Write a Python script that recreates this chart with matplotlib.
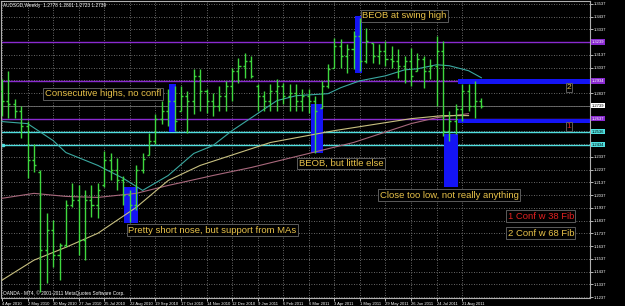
import numpy as np
import matplotlib
matplotlib.use("Agg")
import matplotlib.pyplot as plt

# weekly AUDSGD bars, week 0 = 4 Apr 2010
opens = [1.2856, 1.2778, 1.2755, 1.2700, 1.2582, 1.2309, 1.2215, 1.1605, 1.1761, 1.1566,
         1.1644, 1.1957, 1.1996, 1.1683, 1.1996, 1.1957, 1.2113, 1.2309, 1.2231, 1.2152,
         1.2035, 1.1957, 1.2231, 1.2348, 1.2465, 1.2637, 1.2700, 1.2778, 1.2700, 1.2817,
         1.2778, 1.2973, 1.2856, 1.2778, 1.2739, 1.2817, 1.2895, 1.3013, 1.3052, 1.3091,
         1.2895, 1.2817, 1.2778, 1.2856, 1.2895, 1.2817, 1.2841, 1.2778, 1.2817, 1.2778,
         1.2723, 1.2895, 1.3036, 1.3208, 1.3130, 1.3185, 1.3286, 1.3091, 1.3232, 1.3130,
         1.3169, 1.3106, 1.3091, 1.3052, 1.3091, 1.3013, 1.3106, 1.3013, 1.3052, 1.3169,
         1.2543, 1.2622, 1.2715, 1.2856, 1.2739, 1.2778]
highs = [1.2950, 1.3013, 1.2794, 1.2739, 1.2622, 1.2442, 1.2231, 1.1894, 1.1840, 1.1660,
         1.1996, 1.2129, 1.2113, 1.2074, 1.2113, 1.2129, 1.2387, 1.2371, 1.2332, 1.2191,
         1.2074, 1.2270, 1.2364, 1.2528, 1.2676, 1.2778, 1.2872, 1.2895, 1.2895, 1.2856,
         1.3028, 1.3028, 1.2872, 1.2841, 1.2895, 1.2934, 1.3036, 1.3114, 1.3153, 1.3130,
         1.2911, 1.2856, 1.2911, 1.2950, 1.2919, 1.2911, 1.2911, 1.2872, 1.2872, 1.2817,
         1.2934, 1.3067, 1.3271, 1.3263, 1.3224, 1.3325, 1.3427, 1.3349, 1.3232, 1.3224,
         1.3247, 1.3208, 1.3185, 1.3130, 1.3192, 1.3153, 1.3130, 1.3106, 1.3286, 1.3247,
         1.2700, 1.2755, 1.2911, 1.2911, 1.2934, 1.2801]
lows = [1.2661, 1.2645, 1.2645, 1.2489, 1.2168, 1.2215, 1.1277, 1.1347, 1.1472, 1.1370,
        1.1628, 1.1941, 1.1566, 1.1527, 1.1863, 1.1855, 1.2098, 1.2152, 1.2074, 1.1957,
        1.1824, 1.1918, 1.2207, 1.2348, 1.2442, 1.2598, 1.2582, 1.2543, 1.2700, 1.2528,
        1.2676, 1.2700, 1.2684, 1.2661, 1.2700, 1.2700, 1.2778, 1.2919, 1.2958, 1.2958,
        1.2700, 1.2700, 1.2700, 1.2700, 1.2755, 1.2700, 1.2700, 1.2700, 1.2684, 1.2371,
        1.2723, 1.2880, 1.3036, 1.3036, 1.2997, 1.3028, 1.3013, 1.3075, 1.3075, 1.3067,
        1.3052, 1.3036, 1.2958, 1.2919, 1.2895, 1.3013, 1.2880, 1.2950, 1.2739, 1.2504,
        1.2465, 1.2520, 1.2622, 1.2700, 1.2645, 1.2723]
closes = [1.2778, 1.2755, 1.2700, 1.2582, 1.2309, 1.2270, 1.1605, 1.1761, 1.1566, 1.1644,
          1.1957, 1.1996, 1.1683, 1.1996, 1.1957, 1.2074, 1.2309, 1.2231, 1.2152, 1.2035,
          1.1957, 1.2231, 1.2324, 1.2465, 1.2637, 1.2700, 1.2778, 1.2622, 1.2817, 1.2778,
          1.2973, 1.2856, 1.2778, 1.2739, 1.2817, 1.2895, 1.3013, 1.3052, 1.3091, 1.2973,
          1.2817, 1.2778, 1.2856, 1.2895, 1.2817, 1.2841, 1.2778, 1.2817, 1.2778, 1.2700,
          1.2895, 1.3028, 1.3208, 1.3130, 1.3185, 1.3286, 1.3091, 1.3247, 1.3130, 1.3169,
          1.3106, 1.3091, 1.3052, 1.3091, 1.2973, 1.3106, 1.3013, 1.3052, 1.3169, 1.2543,
          1.2622, 1.2715, 1.2856, 1.2739, 1.2778, 1.2739]

# moving averages (week, price)
ma_fast_weeks = [0, 4, 8, 10, 15, 19, 22, 26, 30, 33, 36, 43, 46, 51, 53, 56, 60, 63, 65, 68, 70, 73, 75]
ma_fast = [1.2614, 1.2598, 1.2465, 1.2371, 1.2270, 1.2168, 1.2074, 1.2191, 1.2364, 1.2426, 1.2543, 1.2778,
           1.2817, 1.2833, 1.2880, 1.2934, 1.2973, 1.3020, 1.3028, 1.3060, 1.3052, 1.3013, 1.2958]
ma_mid_weeks = [0, 5, 10, 15, 21, 26, 31, 42, 52, 64, 69, 73]
ma_mid = [1.1370, 1.1527, 1.1628, 1.1738, 1.1941, 1.2152, 1.2270, 1.2450, 1.2543, 1.2637, 1.2661, 1.2661]
ma_slow_weeks = [0, 5, 10, 15, 21, 26, 33, 39, 48, 55, 64, 68, 73]
ma_slow = [1.2012, 1.2051, 1.2027, 1.2019, 1.2051, 1.2113, 1.2191, 1.2254, 1.2364, 1.2450, 1.2598, 1.2645, 1.2676]

# horizontal levels
purple_levels = [1.3239, 1.2934, 1.2637]
cyan_levels = [1.2536, 1.2434]
bid_price = 1.2739
zone_start = 71.4
zone_bands = [(1.2911, 1.2950), (1.2606, 1.2637)]

# highlight boxes: (week from, week to, price low, price high)
blue_boxes = [(19.1, 21.3, 1.1816, 1.2098),
              (26.1, 27.2, 1.2536, 1.2911),
              (48.3, 50.2, 1.2364, 1.2755),
              (55.2, 56.4, 1.2997, 1.3443),
              (69.2, 71.3, 1.2098, 1.2520)]

notes = [("BEOB at swing high", 56.4, 1.3443, "#e8c24a"),
         ("Consecutive highs, no confl", 6.7, 1.2833, "#e8c24a"),
         ("BEOB, but little else", 46.4, 1.2285, "#e8c24a"),
         ("Close too low, not really anything", 59.1, 1.2035, "#e8c24a"),
         ("Pretty short nose, but support from MAs", 19.7, 1.1761, "#e8c24a"),
         ("1 Conf w 38 Fib", 79.1, 1.1871, "#e02020"),
         ("2 Conf w 68 Fib", 79.1, 1.1738, "#e8c24a")]
markers = [("2", 88.3, 1.2880, "#e8c24a"), ("1", 88.3, 1.2575, "#e02020")]

date_labels = ["4 Apr 2010", "2 May 2010", "30 May 2010", "27 Jun 2010", "25 Jul 2010", "22 Aug 2010",
               "19 Sep 2010", "17 Oct 2010", "14 Nov 2010", "12 Dec 2010", "9 Jan 2011", "6 Feb 2011",
               "6 Mar 2011", "3 Apr 2011", "1 May 2011", "29 May 2011", "26 Jun 2011", "24 Jul 2011",
               "21 Aug 2011"]
price_ticks = [1.3537 - 0.01 * k for k in range(24)]

plt.rcParams['font.family'] = ['Liberation Sans', 'DejaVu Sans']

fig = plt.figure(figsize=(6.25, 3.06), dpi=100, facecolor='black')
ax = fig.add_axes([1 / 625, 8 / 306, 589 / 625, 297 / 306])
ax.set_facecolor('black')
ax.set_xlim(-0.16, 92.0)
ax.set_ylim(1.1230, 1.3560)

# grid
for w in range(0, 76, 4):
    ax.axvline(w, color='#8a8a8a', lw=0.6, ls=(0, (1, 2)), zorder=0)
for p in price_ticks:
    ax.axhline(p, color='#8a8a8a', lw=0.6, ls=(0, (1, 2)), zorder=0)

# blue highlight boxes and zones
for x0, x1, lo, hi in blue_boxes:
    ax.fill_between([x0, x1], lo, hi, color='#1414f5', lw=0, zorder=2)
for lo, hi in zone_bands:
    ax.fill_between([zone_start, 93], lo, hi, color='#1414f5', lw=0, zorder=2)

# levels
for lv in purple_levels:
    ax.axhline(lv, color='#8a2ad0', lw=1.0, zorder=1)
for lv in cyan_levels:
    ax.axhline(lv, color='#4fe0e0', lw=1.0, zorder=1)
ax.axhline(bid_price, color='#707070', lw=0.6, zorder=1)
ax.plot([0.1], [cyan_levels[1]], 's', color='#4fe0e0', ms=2)

# moving averages
ax.plot(ma_slow_weeks, ma_slow, color='#a8687c', lw=0.8, zorder=3)
ax.plot(ma_mid_weeks, ma_mid, color='#c8c080', lw=0.8, zorder=3)
ax.plot(ma_fast_weeks, ma_fast, color='#3aa8a0', lw=0.8, zorder=3)

# OHLC bars
weeks = np.arange(len(closes))
bar_col = '#3ed83e'
ax.vlines(weeks, lows, highs, color=bar_col, lw=1.0, zorder=4)
ax.hlines(opens, weeks - 0.32, weeks, color=bar_col, lw=1.0, zorder=4)
ax.hlines(closes, weeks, weeks + 0.32, color=bar_col, lw=1.0, zorder=4)

# annotations
for txt, x, y, col in notes:
    ax.text(x, y, txt, color=col, fontsize=6.8, va='center', ha='left', zorder=6,
            bbox=dict(boxstyle='square,pad=0.15', fc='black', ec='#6a6a6a', lw=0.6))
for txt, x, y, col in markers:
    ax.text(x, y, txt, color=col, fontsize=6, va='center', ha='left', zorder=6,
            bbox=dict(boxstyle='square,pad=0.1', fc='black', ec='#6a6a6a', lw=0.6))

ax.text(0.004, 0.992, "AUDSGD,Weekly  %.4f %.4f %.4f %.4f" % (opens[-1], highs[-1], lows[-1], closes[-1]),
        transform=ax.transAxes, color='white', fontsize=3.4, va='top', ha='left')
ax.text(0.004, 0.008, "OANDA - MT4, \u00a9 2001-2011 MetaQuotes Software Corp.",
        transform=ax.transAxes, color='white', fontsize=3.4, va='bottom', ha='left')

# axes
for s in ax.spines.values():
    s.set_color('#b0b0b0')
    s.set_linewidth(0.8)
ax.yaxis.tick_right()
ax.set_yticks(price_ticks)
# labels hidden under the level boxes are left blank
levels_all = purple_levels + cyan_levels + [bid_price]
ax.set_yticklabels(["" if min(abs(p - lv) for lv in levels_all) < 0.006 else "%.4f" % p
                    for p in price_ticks])
ax.set_xticks(range(0, 76, 4))
ax.set_xticklabels(date_labels, ha='left')
ax.tick_params(axis='both', colors='white', labelsize=3.0, length=2, width=0.5, pad=1)

# price boxes on the right scale
for lv in purple_levels:
    ax.text(1.003, lv, "%.4f" % lv, transform=ax.get_yaxis_transform(), color='white', fontsize=3.0,
            va='center', ha='left', bbox=dict(boxstyle='square,pad=0.2', fc='#8a2ad0', ec='none'))
for lv in cyan_levels:
    ax.text(1.003, lv, "%.4f" % lv, transform=ax.get_yaxis_transform(), color='black', fontsize=3.0,
            va='center', ha='left', bbox=dict(boxstyle='square,pad=0.2', fc='#4fe0e0', ec='none'))
ax.text(1.003, bid_price, "%.4f" % bid_price, transform=ax.get_yaxis_transform(), color='black',
        fontsize=3.0, va='center', ha='left', bbox=dict(boxstyle='square,pad=0.2', fc='white', ec='none'))

fig.savefig('out.png', dpi=100, facecolor='black')
